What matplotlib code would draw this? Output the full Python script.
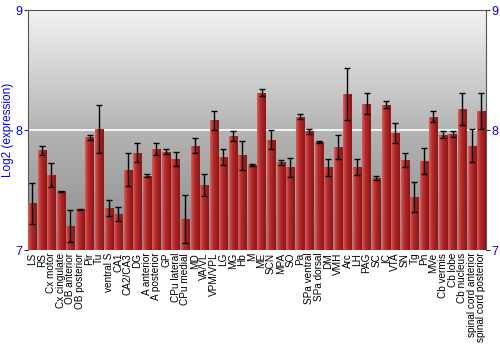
import numpy as np
import matplotlib
matplotlib.use("Agg")
import matplotlib.pyplot as plt
from matplotlib.colors import LinearSegmentedColormap

plt.rcParams['font.family'] = ['Liberation Sans', 'DejaVu Sans']

regions = ["LS", "RS", "Cx motor", "Cx cingulate", "OB anterior", "OB posterior",
           "Pir", "Tu", "ventral S", "CA1", "CA2/CA3", "DG", "A anterior",
           "A posterior", "GP", "CPu lateral", "CPu medial", "MD", "VA/VL",
           "VPM/VPL", "LG", "MG", "Hb", "M", "ME", "SCN", "MPA", "SO", "Pa",
           "SPa ventral", "SPa dorsal", "DM", "VMH", "Arc", "LH", "PAG", "SC",
           "IC", "VTA", "SN", "Tg", "Pn", "MVe", "Cb vermis", "Cb lobe",
           "Cb nucleus", "spinal cord anterior", "spinal cord posterior"]
expr = [7.39, 7.83, 7.625, 7.49, 7.20, 7.34, 7.94, 8.01, 7.35, 7.30, 7.67, 7.81,
        7.62, 7.84, 7.82, 7.76, 7.26, 7.87, 7.54, 8.08, 7.775, 7.95, 7.79, 7.71,
        8.31, 7.92, 7.73, 7.69, 8.11, 7.99, 7.90, 7.69, 7.86, 8.30, 7.69, 8.22,
        7.60, 8.21, 7.975, 7.75, 7.44, 7.74, 8.11, 7.96, 7.97, 8.175, 7.87, 8.16]
err = [0.17, 0.04, 0.10, 0.005, 0.13, 0.005, 0.02, 0.20, 0.07, 0.06, 0.14, 0.08,
       0.01, 0.05, 0.02, 0.06, 0.20, 0.06, 0.09, 0.08, 0.07, 0.04, 0.12, 0.01,
       0.03, 0.08, 0.02, 0.08, 0.02, 0.02, 0.01, 0.07, 0.10, 0.22, 0.065, 0.085,
       0.02, 0.03, 0.08, 0.06, 0.125, 0.11, 0.045, 0.03, 0.025, 0.13, 0.14, 0.15]
yticks = [7, 8, 9]

fig = plt.figure(figsize=(5, 3.5), dpi=100)
ax = fig.add_axes([0.055, 0.2857, 0.917, 0.6857])
x = np.arange(len(regions))
ax.set_xlim(-0.5, len(regions) - 0.5)
ax.set_ylim(7, 9)

# gray gradient background
bg = np.linspace(0, 1, 256).reshape(-1, 1)
bgcmap = LinearSegmentedColormap.from_list("bg", ["#8c8c8c", "#b4b4b4", "#f2f2f2"])
ax.imshow(bg, cmap=bgcmap, aspect="auto", origin="lower",
          extent=[-0.5, len(regions) - 0.5, 7, 9], zorder=0)
ax.axhline(8, color="white", lw=1.2, zorder=1)

bars = ax.bar(x, np.array(expr) - 7, bottom=7, width=0.86, color="#b02828",
              edgecolor="none", zorder=2)
barcmap = LinearSegmentedColormap.from_list("bar", ["#d86060", "#b83030", "#a02020", "#8a1818"])
grad = np.linspace(0, 1, 64).reshape(1, -1)
for b in bars:
    im = ax.imshow(grad, cmap=barcmap, aspect="auto",
                   extent=[b.get_x(), b.get_x() + b.get_width(), 7, b.get_y() + b.get_height()],
                   zorder=3)
    im.set_clip_path(b)
ax.errorbar(x, expr, yerr=err, fmt="none", ecolor="black", elinewidth=1,
            capsize=2, capthick=1, zorder=4)

ax.set_xticks(x)
ax.set_xticklabels(regions, rotation=90, fontsize=7.2)
ax.tick_params(axis="x", length=0, pad=2)
ax.set_yticks(yticks)
ax.tick_params(axis="y", colors="#333333", labelcolor="blue", labelsize=9,
               length=3, pad=1, right=True, labelright=True)
ax.set_ylabel("Log2 (expression)", color="blue", fontsize=8.5, labelpad=1)
for s in ax.spines.values():
    s.set_color("#555555")
    s.set_linewidth(0.8)
ax.spines["bottom"].set_visible(False)

fig.savefig("out.png", dpi=100)
